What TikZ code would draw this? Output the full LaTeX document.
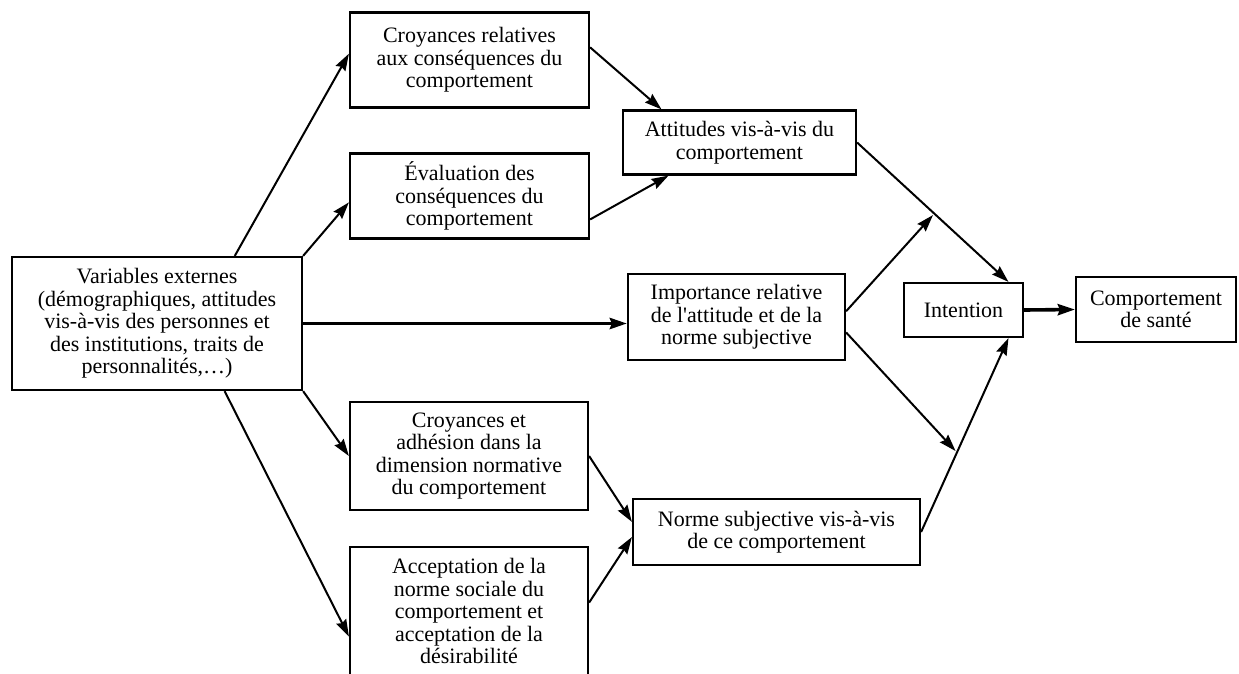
\documentclass[tikz,border=0pt]{standalone}
\usepackage{fontspec}
\setmainfont{Liberation Serif}
\usetikzlibrary{arrows.meta}
\tikzset{boite/.style={draw,line width=2.2pt,align=center,inner sep=0pt,
        font=\fontsize{22}{22.5}\selectfont},
    fleche/.style={line width=2pt,-{Stealth[length=17pt,width=11pt,inset=2pt]}},
    grosse/.style={fleche,line width=3.6pt},
    }
\begin{document}
\begin{tikzpicture}[x=1pt,y=-1pt]
\useasboundingbox (0,0) rectangle (1239,673);
% boites
\node[boite,minimum width=290pt,minimum height=133pt] (var) at (157,323.5)
  {Variables externes\\(démographiques, attitudes\\vis-à-vis des personnes et\\des institutions, traits de\\personnalités,\dots)};
\node[boite,minimum width=239pt,minimum height=95pt] (croyrel) at (469.5,60)
  {Croyances relatives\\aux conséquences du\\comportement};
\node[boite,minimum width=239pt,minimum height=85pt] (evalcons) at (469.5,196)
  {Évaluation des\\conséquences du\\comportement};
\node[boite,minimum width=238pt,minimum height=108pt] (croyadh) at (469,456)
  {Croyances et\\adhésion dans la\\dimension normative\\du comportement};
\node[boite,minimum width=238pt,minimum height=128pt] (accept) at (469,611)
  {Acceptation de la\\norme sociale du\\comportement et\\acceptation de la\\désirabilité};
\node[boite,minimum width=233pt,minimum height=64pt] (attit) at (739.5,142.5)
  {Attitudes vis-à-vis du\\comportement};
\node[boite,minimum width=217pt,minimum height=86pt] (import) at (736.5,317)
  {Importance relative\\de l\textquotesingle attitude et de la\\norme subjective};
\node[boite,minimum width=287pt,minimum height=66pt] (norme) at (776.5,532)
  {Norme subjective vis-à-vis\\de ce comportement};
\node[boite,minimum width=119pt,minimum height=54pt] (intent) at (963.5,310)
  {Intention};
\node[boite,minimum width=160pt,minimum height=65pt] (sante) at (1156,309.5)
  {Comportement\\de santé};

% fleches
\draw[fleche] (var.41) -- (croyrel.177);
\draw[fleche] (var.north east) -- (evalcons.-177);
\draw[grosse] (var.east) -- (import.west|-var.east);
\draw[fleche] (var.south east) -- (croyadh.west);
\draw[fleche] (var.-45) -- (accept.192);
\draw[fleche] (croyrel.6) -- (attit.157);
\draw[fleche] (evalcons.-11) -- (attit.205);
\draw[fleche] (croyadh.east) -- (norme.176);
\draw[fleche] (accept.4) -- (norme.182);
\draw[fleche] (attit.east) -- (intent.32) coordinate[pos=0.51] (mA);
\draw[fleche] (norme.east) -- (intent.-32) coordinate[pos=0.41] (mB);
\draw[fleche,shorten >=2pt] (import.3) -- (mA);
\draw[fleche,shorten >=2pt] (import.-8) -- (mB);
\draw[grosse] (intent.east) -- (sante.west);
\end{tikzpicture}
\end{document}
